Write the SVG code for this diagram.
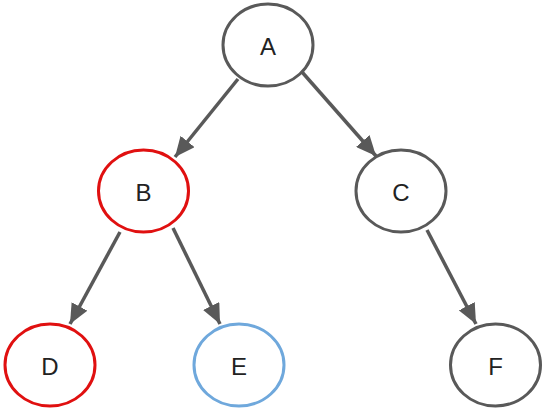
<svg xmlns="http://www.w3.org/2000/svg" width="546" height="410" viewBox="0 0 546 410">
<style>
.n{fill:#fff;stroke-width:3}
.g{stroke:#595959}
.r{stroke:#e01010}
.b{stroke:#6fa8dc}
.t{font-family:"Liberation Sans",Arial,sans-serif;font-size:24px;fill:#222;text-anchor:middle;dominant-baseline:central}
.e{stroke:#595959;stroke-width:3.5;fill:none;marker-end:url(#ah)}
</style>
<defs>
<marker id="ah" markerUnits="userSpaceOnUse" markerWidth="22" markerHeight="18" refX="20" refY="9" orient="auto">
<path d="M0,0 L20,9 L0,18 Z" fill="#595959"/>
</marker>
</defs>
<rect width="546" height="410" fill="#fff"/>
<g id="edges">
<line class="e" x1="238" y1="79" x2="175" y2="157"/>
<line class="e" x1="302" y1="72" x2="376" y2="156"/>
<line class="e" x1="120" y1="232" x2="70" y2="324"/>
<line class="e" x1="173" y1="228" x2="220" y2="324"/>
<line class="e" x1="427" y1="230" x2="476" y2="324"/>
</g>
<g id="A"><ellipse class="n g" cx="268" cy="45" rx="45" ry="41"/><text class="t" x="268" y="46">A</text></g>
<g id="B"><ellipse class="n r" cx="143.5" cy="191" rx="45" ry="41"/><text class="t" x="143.5" y="192">B</text></g>
<g id="C"><ellipse class="n g" cx="401" cy="191" rx="45" ry="41"/><text class="t" x="401" y="192">C</text></g>
<g id="D"><ellipse class="n r" cx="50" cy="365" rx="45" ry="41"/><text class="t" x="50" y="366">D</text></g>
<g id="E"><ellipse class="n b" cx="239" cy="365" rx="45" ry="41"/><text class="t" x="239" y="366">E</text></g>
<g id="F"><ellipse class="n g" cx="495.5" cy="365" rx="45" ry="41"/><text class="t" x="495.5" y="366">F</text></g>
</svg>
